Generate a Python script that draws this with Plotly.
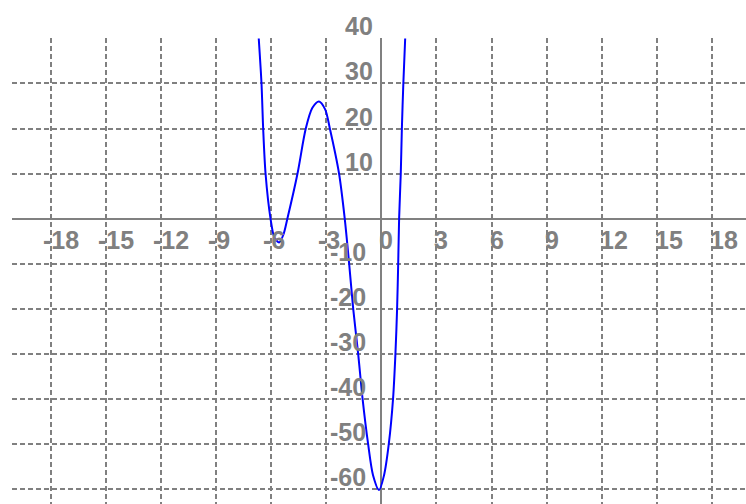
import plotly.graph_objects as go

# Curve samples
curve_x = [-6.67, -6.52, -6.43, -6.30, -6.03, -5.82, -5.56, -5.33, -5.11, -4.56,
           -4.11, -3.75, -3.39, -3.05, -2.80, -2.30, -1.99, -1.75, -1.53, -1.26,
           -1.02, -0.72, -0.45, -0.12, 0.15, 0.41, 0.64, 0.77, 0.86, 0.92,
           0.97, 1.06, 1.12, 1.20, 1.30]
curve_y = [40, 30, 20, 10, 0, -4.2, -5.3, -3.6, 0, 10,
           20, 24.6, 26.0, 24.2, 20, 10, 0, -10, -20, -30,
           -40, -50, -57, -60.3, -57, -50, -40, -30, -20, -10,
           0, 10, 20, 30, 40]

x_ticks = [-18, -15, -12, -9, -6, -3, 0, 3, 6, 9, 12, 15, 18]
x_tick_labels = ["-18", "-15", "-12", "-9", "-6", "-3", "0", "3", "6", "9", "12", "15", "18"]
y_ticks = [40, 30, 20, 10, -10, -20, -30, -40, -50, -60]
y_tick_labels = ["40", "30", "20", "10", "-10", "-20", "-30", "-40", "-50", "-60"]

GRAY = "#808080"
label_font = dict(family="Liberation Sans, Arial, sans-serif", size=25, color=GRAY, weight="bold")

fig = go.Figure()
fig.add_trace(go.Scatter(
    x=curve_x, y=curve_y, mode="lines",
    line=dict(color="#0000ff", width=2, shape="spline", smoothing=0.8),
    hoverinfo="skip", showlegend=False,
))

annotations = []
for v, t in zip(x_ticks, x_tick_labels):
    annotations.append(dict(
        x=v, y=0, xref="x", yref="y", text=t, showarrow=False,
        xanchor="left", yanchor="top",
        xshift=-10 if t.startswith("-") else -4, yshift=-5,
        font=label_font,
    ))
for v, t in zip(y_ticks, y_tick_labels):
    annotations.append(dict(
        x=0, y=v, xref="x", yref="y", text=t, showarrow=False,
        xanchor="right", yanchor="bottom",
        xshift=-13 if t.startswith("-") else -6, yshift=-4,
        font=label_font,
    ))

fig.update_layout(
    width=746, height=504,
    margin=dict(l=12, r=0, t=38, b=0, pad=0),
    paper_bgcolor="white", plot_bgcolor="white",
    showlegend=False,
    annotations=annotations,
    xaxis=dict(
        range=[-20.1, 19.85], tickmode="array", tickvals=x_ticks,
        showticklabels=False, ticks="",
        showgrid=True, gridcolor=GRAY, gridwidth=1.5, griddash="5px,3px",
        zeroline=True, zerolinecolor=GRAY, zerolinewidth=2,
        showline=False, fixedrange=True,
    ),
    yaxis=dict(
        range=[-63.4, 40.1], tickmode="array", tickvals=y_ticks,
        showticklabels=False, ticks="",
        showgrid=True, gridcolor=GRAY, gridwidth=1.5, griddash="5px,3px",
        zeroline=True, zerolinecolor=GRAY, zerolinewidth=2,
        showline=False, fixedrange=True,
    ),
)

fig.write_html(
    "out.html",
    config={"displayModeBar": False},
    post_script="document.body.style.margin='0';document.body.style.overflow='hidden';",
)
